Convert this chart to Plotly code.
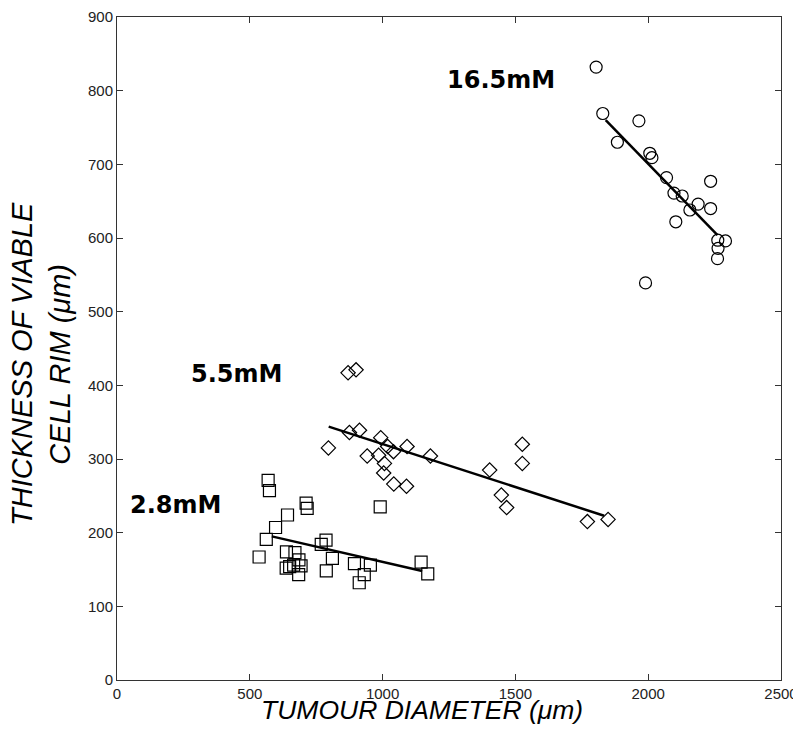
import plotly.graph_objects as go

# 2.8 mM (squares)
sq_x = [569, 574, 712, 716, 642, 597, 991, 562, 535, 638, 670, 787, 769, 685,
        650, 665, 693, 684, 811, 788, 894, 954, 931, 912, 1145, 1170, 637]
sq_y = [271, 257, 240, 233, 224, 207, 235, 191, 167, 174, 173, 190, 184, 163,
        154, 156, 155, 143, 165, 148, 158, 156, 143, 132, 160, 144, 152]
sq_fit_x = [583, 1149]
sq_fit_y = [195, 148]

# 5.5 mM (diamonds)
di_x = [870, 900, 796, 875, 913, 993, 942, 985, 1019, 1041, 1007, 1004, 1042,
        1090, 1092, 1180, 1403, 1526, 1526, 1447, 1467, 1771, 1849]
di_y = [417, 421, 315, 336, 339, 329, 304, 305, 317, 310, 294, 281, 266,
        263, 317, 304, 285, 320, 294, 251, 234, 215, 218]
di_fit_x = [797, 1834]
di_fit_y = [344, 223]

# 16.5 mM (circles)
ci_x = [1804, 1829, 1965, 1884, 2006, 2014, 2069, 2235, 2097, 2128, 2188,
        2235, 2157, 2104, 2262, 2291, 2263, 2261, 1990]
ci_y = [832, 769, 759, 730, 715, 709, 682, 677, 661, 657, 646,
        640, 638, 622, 597, 596, 586, 572, 539]
ci_fit_x = [1840, 2261]
ci_fit_y = [760, 604]

labels = ["2.8mM", "5.5mM", "16.5mM"]
label_x = [219, 451, 1444]
label_y = [237, 415, 814]

x_ticks = [0, 500, 1000, 1500, 2000, 2500]
y_ticks = [0, 100, 200, 300, 400, 500, 600, 700, 800, 900]

fig = go.Figure()

def add_series(x, y, symbol, size, fx, fy):
    fig.add_trace(go.Scatter(x=fx, y=fy, mode="lines",
                             line=dict(color="black", width=2.5),
                             showlegend=False, hoverinfo="skip"))
    fig.add_trace(go.Scatter(x=x, y=y, mode="markers",
                             marker=dict(symbol=symbol, size=size,
                                         color="black",
                                         line=dict(color="black", width=1.2)),
                             showlegend=False))

add_series(sq_x, sq_y, "square-open", 12, sq_fit_x, sq_fit_y)
add_series(di_x, di_y, "diamond-open", 11, di_fit_x, di_fit_y)
add_series(ci_x, ci_y, "circle-open", 12, ci_fit_x, ci_fit_y)

for t, x, y in zip(labels, label_x, label_y):
    fig.add_annotation(x=x, y=y, text="<b>%s</b>" % t, showarrow=False,
                       font=dict(family="DejaVu Sans", size=24, color="black"))

fig.add_annotation(xref="paper", yref="paper", x=0.459, y=-0.045,
                   xanchor="center", yanchor="middle",
                   text="<i>TUMOUR DIAMETER (μm)</i>", showarrow=False,
                   font=dict(family="Liberation Sans", size=26.5, color="black"))
fig.add_annotation(xref="paper", yref="paper", x=-0.1145, y=0.4766,
                   xanchor="center", yanchor="middle", textangle=-90,
                   text="<i>THICKNESS OF VIABLE<br>CELL RIM (μm)</i>",
                   showarrow=False,
                   font=dict(family="Liberation Sans", size=29, color="black"))

axis_common = dict(showgrid=False, zeroline=False, showline=True,
                   linecolor="#333", linewidth=1, mirror="ticks",
                   ticks="inside", ticklen=6, tickcolor="#333",
                   automargin=False, ticklabeloverflow="allow",
                   tickfont=dict(family="Liberation Sans", size=15, color="#222"))

fig.update_xaxes(range=[0, 2500], tickvals=x_ticks, **axis_common)
fig.update_yaxes(range=[0, 900], tickvals=y_ticks, **axis_common)

fig.update_layout(width=785, height=722, plot_bgcolor="white",
                  paper_bgcolor="white",
                  margin=dict(l=109, r=12, t=9, b=50))

fig.write_html("out.html")
